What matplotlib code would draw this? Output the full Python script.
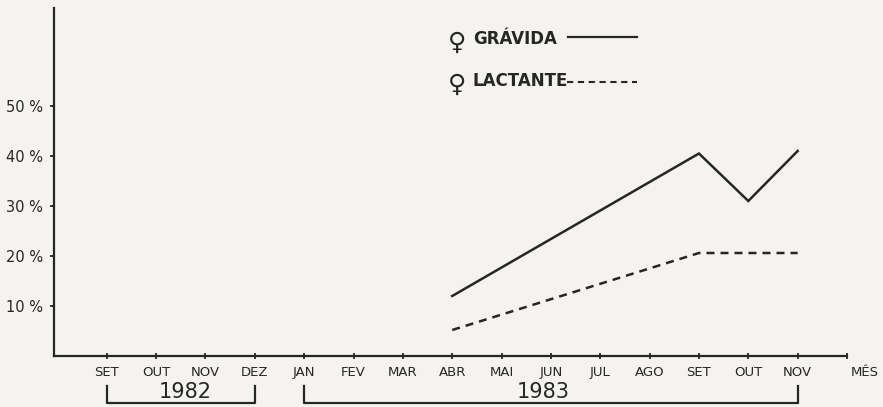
import matplotlib
matplotlib.use("Agg")
import matplotlib.pyplot as plt
from matplotlib.lines import Line2D
import matplotlib.transforms as mtransforms

# months along the x axis, Sep 1982 .. Nov 1983
months = ['SET', 'OUT', 'NOV', 'DEZ', 'JAN', 'FEV', 'MAR', 'ABR',
          'MAI', 'JUN', 'JUL', 'AGO', 'SET', 'OUT', 'NOV']
yticks = [10, 20, 30, 40, 50]
ylabels = ['10 %', '20 %', '30 %', '40 %', '50 %']

# series (index into months, percentage)
gravida_x = [7, 12, 13, 14]
gravida_y = [12, 40.5, 31, 41]
lactante_x = [7, 12, 14]
lactante_y = [5.2, 20.6, 20.6]

years = ['1982', '1983']
year_start = [0, 4]
year_end = [3, 14]

W, H = 883, 407
ink = '#262626'
paper = '#f4f3ef'

plt.rcParams['font.family'] = ['DejaVu Sans']
fig = plt.figure(figsize=(W / 100, H / 100), dpi=100, facecolor=paper)

# axes placed in pixels: left 54, right 847, bottom 356, top 8
ax = fig.add_axes([54 / W, (H - 356) / H, (847 - 54) / W, (356 - 8) / H])
ax.set_facecolor(paper)
ax.set_xlim(-1.07, 15)
ax.set_ylim(0, 69.6)

for s in ['top', 'right']:
    ax.spines[s].set_visible(False)
for s in ['left', 'bottom']:
    ax.spines[s].set_linewidth(1.6)
    ax.spines[s].set_color(ink)

ax.plot(gravida_x, gravida_y, color=ink, lw=1.8, solid_joinstyle='miter')
ax.plot(lactante_x, lactante_y, color=ink, lw=1.8, dashes=(3.2, 2.4))

ax.set_xticks(range(len(months)))
ax.set_xticklabels(months)
ax.set_xticks([15], minor=True)
ax.tick_params(axis='x', which='both', direction='inout', length=5, width=1.3,
               colors=ink, labelsize=9.5, pad=4.5)
ax.set_yticks(yticks)
ax.set_yticklabels(ylabels)
ax.tick_params(axis='y', direction='out', length=3, width=1.3,
               colors=ink, labelsize=10.5, pad=5)

ax.text(15.35, 0, 'MÊS', fontsize=9.5, color=ink, ha='center', va='top',
        transform=mtransforms.offset_copy(ax.transData, fig=fig, x=0, y=-10,
                                          units='dots'))

# year brackets below the month labels
trans = mtransforms.blended_transform_factory(ax.transData, ax.transAxes)
y_top, y_bot = -0.087, -0.135
for name, a, b in zip(years, year_start, year_end):
    ax.add_line(Line2D([a, a, b, b], [y_top, y_bot, y_bot, y_top],
                       transform=trans, color=ink, lw=1.6, clip_on=False))
mids = [1.58, 8.85]
for name, m in zip(years, mids):
    ax.text(m, -0.104, name, transform=trans, fontsize=15, color=ink,
            ha='center', va='center')


# legend drawn at the top, in figure pixels
def fx(x):
    return x / W


def fy(y):
    return (H - y) / H


for label, ty, dashed in [('GRÁVIDA', 39, False), ('LACTANTE', 81, True)]:
    fig.text(fx(457), fy(ty + 4), '♀', fontsize=18, color=ink,
             ha='center', va='center')
    fig.text(fx(473), fy(ty), label, fontsize=12, fontweight='bold',
             color=ink, ha='left', va='center')
    if dashed:
        fig.add_artist(Line2D([fx(567), fx(637)], [fy(ty + 1), fy(ty + 1)],
                              color=ink, lw=1.5, dashes=(3, 2.2)))
    else:
        fig.add_artist(Line2D([fx(568), fx(637)], [fy(ty - 2), fy(ty - 2)],
                              color=ink, lw=1.6))

fig.savefig('out.png', dpi=100, facecolor=paper)
